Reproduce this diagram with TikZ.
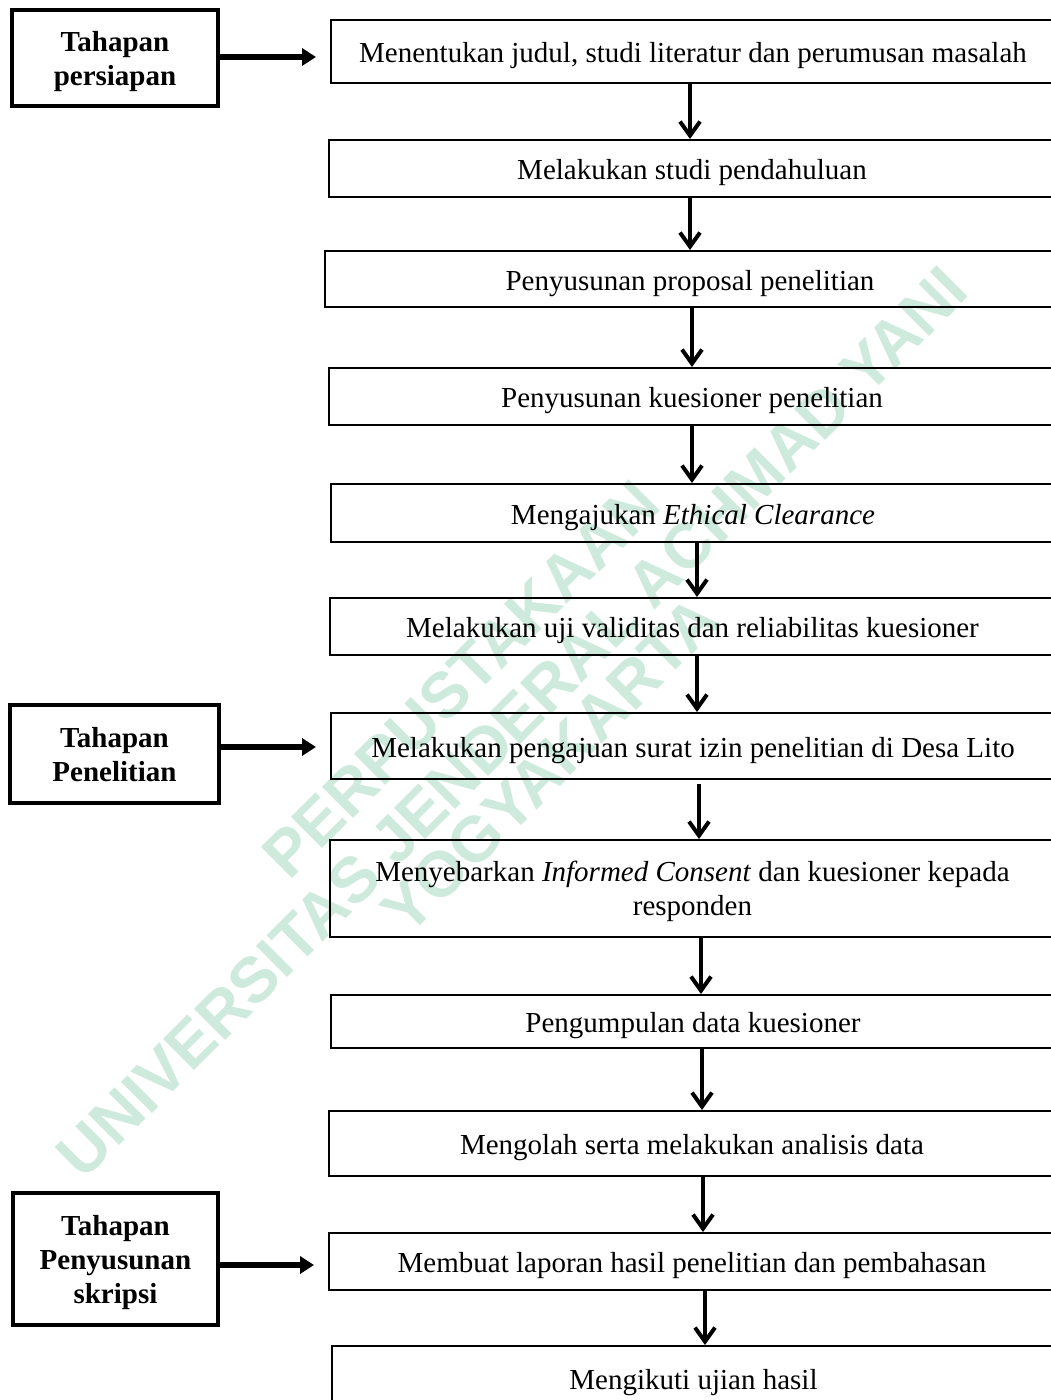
\documentclass[tikz,border=0pt]{standalone}
\usepackage{fontspec}
\setmainfont{Liberation Serif}
\newfontfamily\wmfont{Liberation Sans}
\usetikzlibrary{arrows.meta,calc}
\definecolor{wmcol}{RGB}{206,234,221}
\newcommand\topstr{\rule{0pt}{27pt}}
\newcommand\botstr{\rule[-6.5pt]{0pt}{6.5pt}}
\tikzset{
  basebox/.style={draw=black, line width=2pt, rectangle, inner sep=0pt, align=center, font=\fontsize{29}{34}\selectfont},
  rbox/.style={basebox, text height=26pt, text depth=4pt},
  lbox/.style={draw=black, line width=4.5pt, rectangle, inner sep=0pt, align=center, font=\fontsize{29}{34}\selectfont\bfseries},
  varr/.style={line width=4pt, -{Straight Barb[length=14pt,width=20pt,line width=4pt]}},
  harr/.style={line width=5.5pt, -{Triangle[length=14pt,width=17pt]}},
  wm/.style={rotate=45, inner sep=0pt, text=wmcol, font=\wmfont\fontsize{64}{64}\selectfont\bfseries}
}
\begin{document}
\begin{tikzpicture}[x=1pt,y=-1pt]
\useasboundingbox (0,0) rectangle (1051,1400);
% watermark
\node[wm] (w1) at (461,679) {PERPUSTAKAAN};
\node[wm] (w2) at (512,722) {UNIVERSITAS JENDERAL ACHMAD YANI};
\node[wm] (w3) at (550,765) {YOGYAKARTA};
% left boxes
\node[lbox, minimum width=206pt, minimum height=96pt] (l1) at (115,58) {\topstr Tahapan\\persiapan\botstr};
\node[lbox, minimum width=209pt, minimum height=98pt] (l2) at (114.5,754) {\topstr Tahapan\\Penelitian\botstr};
\node[lbox, minimum width=205pt, minimum height=132pt] (l3) at (115.5,1259) {\topstr Tahapan\\Penyusunan\\skripsi\botstr};
% right boxes
\node[rbox, minimum width=724pt, minimum height=63pt] (b1) at (693,51.5) {Menentukan judul, studi literatur dan perumusan masalah};
\node[rbox, minimum width=726pt, minimum height=57pt] (b2) at (692,168.5) {Melakukan studi pendahuluan};
\node[rbox, minimum width=730pt, minimum height=56pt] (b3) at (690,279) {Penyusunan proposal penelitian};
\node[rbox, minimum width=726pt, minimum height=57pt] (b4) at (692,396.5) {Penyusunan kuesioner penelitian};
\node[rbox, minimum width=724pt, minimum height=58pt] (b5) at (693,513) {Mengajukan \textit{Ethical Clearance}};
\node[rbox, minimum width=725pt, minimum height=57pt] (b6) at (692.5,626.5) {Melakukan uji validitas dan reliabilitas kuesioner};
\node[rbox, minimum width=724pt, minimum height=66pt] (b7) at (693,746) {Melakukan pengajuan surat izin penelitian di Desa Lito};
\node[basebox, minimum width=725pt, minimum height=97pt] (b8) at (692.5,888.5) {\topstr Menyebarkan \textit{Informed Consent} dan kuesioner kepada\\responden\botstr};
\node[rbox, minimum width=724pt, minimum height=53pt] (b9) at (693,1021.5) {Pengumpulan data kuesioner};
\node[rbox, minimum width=726pt, minimum height=65pt] (b10) at (692,1143.5) {Mengolah serta melakukan analisis data};
\node[rbox, minimum width=726pt, minimum height=57pt] (b11) at (692,1261.5) {Membuat laporan hasil penelitian dan pembahasan};
\node[rbox, minimum width=723pt, minimum height=64pt] (b12) at (693.5,1378) {Mengikuti ujian hasil};
% horizontal arrows
\draw[harr, shorten >=14pt] ([yshift=1pt]l1.east) -- ([yshift=1pt]l1.east -| b1.west);
\draw[harr, shorten >=14pt] ([yshift=7pt]l2.east) -- ([yshift=7pt]l2.east -| b7.west);
\draw[harr, shorten >=14pt] ([yshift=-6pt]l3.east) -- ([yshift=-6pt]l3.east -| b11.west);
% vertical arrows
\draw[varr] ([xshift=-3pt]b1.south) -- ([xshift=-3pt]b1.south |- b2.north);
\draw[varr] ([xshift=-2pt]b2.south) -- ([xshift=-2pt]b2.south |- b3.north);
\draw[varr] ([xshift=2pt]b3.south) -- ([xshift=2pt]b3.south |- b4.north);
\draw[varr] (b4.south) -- (b4.south |- b5.north);
\draw[varr] ([xshift=4pt]b5.south) -- ([xshift=4pt]b5.south |- b6.north);
\draw[varr] ([xshift=4.5pt]b6.south) -- ([xshift=4.5pt]b6.south |- b7.north);
\draw[varr] ([xshift=6pt,yshift=-4pt]b7.south) -- ([xshift=6pt]b7.south |- b8.north);
\draw[varr] ([xshift=8.5pt]b8.south) -- ([xshift=8.5pt]b8.south |- b9.north);
\draw[varr] ([xshift=9pt]b9.south) -- ([xshift=9pt]b9.south |- b10.north);
\draw[varr] ([xshift=11pt]b10.south) -- ([xshift=11pt]b10.south |- b11.north);
\draw[varr] ([xshift=13pt]b11.south) -- ([xshift=13pt]b11.south |- b12.north);
\end{tikzpicture}
\end{document}
